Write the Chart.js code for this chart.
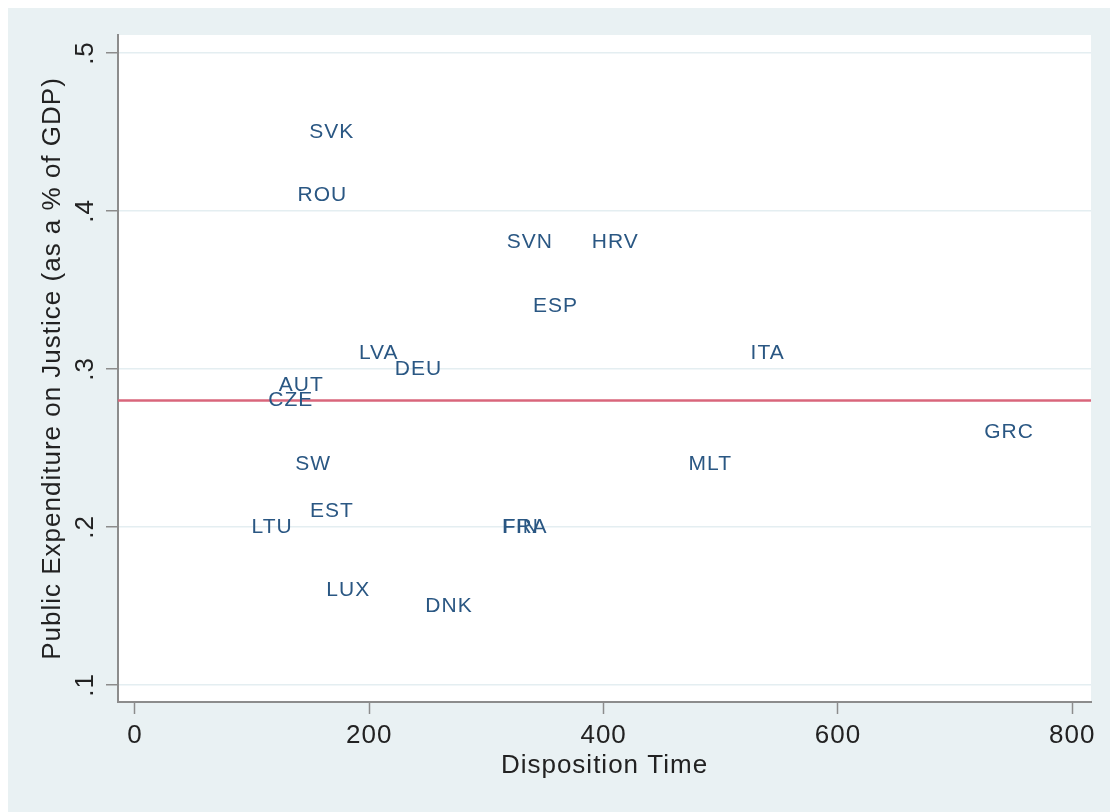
<!DOCTYPE html>
<html>
<head>
<meta charset="utf-8">
<title>Disposition Time vs Public Expenditure on Justice</title>
<script src="https://cdn.jsdelivr.net/npm/chart.js@4/dist/chart.umd.min.js"></script>
<style>
    html, body { margin: 0; padding: 0; background: #ffffff; }
    #scatter {
        position: absolute;
        left: 8px;
        top: 8px;
        background: #e9f1f3;
    }
</style>
</head>
<body>
<canvas id="scatter" width="1102" height="804"></canvas>
<script>
// Country data
const countries = ['SVK', 'ROU', 'SVN', 'HRV', 'ESP', 'LVA', 'DEU', 'ITA', 'AUT', 'CZE',
                   'GRC', 'SW', 'MLT', 'EST', 'LTU', 'FIN', 'FRA', 'LUX', 'DNK'];
const dispositionTime = [168, 160, 337, 410, 359, 208, 242, 540, 142, 133,
                         746, 152, 491, 168, 117, 329, 333, 182, 268];
const justiceSpending = [0.45, 0.41, 0.38, 0.38, 0.34, 0.31, 0.30, 0.31, 0.29, 0.28,
                         0.26, 0.24, 0.24, 0.21, 0.20, 0.20, 0.20, 0.16, 0.15];

// Reference line (average spending)
const justiceMean = 0.28;

// Axis ticks
const xTicks = [0, 200, 400, 600, 800];
const yTicks = [0.1, 0.2, 0.3, 0.4, 0.5];
const yTickLabels = ['.1', '.2', '.3', '.4', '.5'];
const xMin = -14.5, xMax = 816;
const yMin = 0.0892, yMax = 0.5114;

const FONT = '"Liberation Sans", Arial, Helvetica, sans-serif';
const AXIS_GRAY = '#8c8c8c';

const points = countries.map((c, i) => ({ x: dispositionTime[i], y: justiceSpending[i], label: c }));

// White plot region + wider letter spacing like the Stata output
const plotBackground = {
    id: 'plotBackground',
    beforeDraw(chart) {
        const { ctx, chartArea } = chart;
        ctx.letterSpacing = '1px';
        ctx.save();
        ctx.fillStyle = '#ffffff';
        ctx.fillRect(chartArea.left, chartArea.top,
                     chartArea.right - chartArea.left, chartArea.bottom - chartArea.top);
        ctx.restore();
    }
};

// Country codes used as markers
const markerLabels = {
    id: 'markerLabels',
    afterDatasetsDraw(chart) {
        const { ctx } = chart;
        const meta = chart.getDatasetMeta(0);
        ctx.save();
        ctx.font = '21px ' + FONT;
        ctx.fillStyle = '#2a5783';
        ctx.textAlign = 'center';
        ctx.textBaseline = 'middle';
        meta.data.forEach((el, i) => {
            ctx.fillText(points[i].label, el.x, el.y);
        });
        ctx.restore();
    }
};

// Rotated y tick labels (Chart.js does not rotate vertical tick labels)
const rotatedYTicks = {
    id: 'rotatedYTicks',
    afterDraw(chart) {
        const { ctx } = chart;
        const yScale = chart.scales.y;
        ctx.save();
        ctx.font = '26px ' + FONT;
        ctx.fillStyle = '#222222';
        ctx.textAlign = 'center';
        ctx.textBaseline = 'alphabetic';
        yScale.ticks.forEach((t, i) => {
            const y = yScale.getPixelForValue(t.value);
            ctx.save();
            ctx.translate(85, y);
            ctx.rotate(-Math.PI / 2);
            ctx.fillText(yTickLabels[i], 0, 0);
            ctx.restore();
        });
        ctx.restore();
    }
};

new Chart(document.getElementById('scatter'), {
    type: 'scatter',
    data: {
        datasets: [
            {
                label: 'Countries',
                data: points,
                pointRadius: 0,
                pointHoverRadius: 0
            },
            {
                type: 'line',
                label: 'Mean',
                data: [{ x: xMin, y: justiceMean }, { x: xMax, y: justiceMean }],
                borderColor: '#d9667b',
                borderWidth: 2.5,
                pointRadius: 0,
                fill: false
            }
        ]
    },
    options: {
        responsive: false,
        animation: false,
        layout: { padding: { top: 27, right: 19, bottom: 0, left: 0 } },
        plugins: {
            legend: { display: false },
            tooltip: { enabled: false }
        },
        scales: {
            x: {
                type: 'linear',
                min: xMin,
                max: xMax,
                afterBuildTicks: (scale) => { scale.ticks = xTicks.map(v => ({ value: v })); },
                afterFit: (scale) => { scale.height = 110; },
                border: { display: true, color: AXIS_GRAY, width: 2 },
                grid: {
                    drawOnChartArea: false,
                    drawTicks: true,
                    tickLength: 12,
                    tickColor: AXIS_GRAY,
                    tickWidth: 1.5
                },
                ticks: {
                    color: '#222222',
                    font: { family: FONT, size: 26 },
                    padding: 6,
                    maxRotation: 0
                },
                title: {
                    display: true,
                    text: 'Disposition Time',
                    color: '#222222',
                    font: { family: FONT, size: 26 },
                    padding: { top: 0, bottom: 31 }
                }
            },
            y: {
                type: 'linear',
                min: yMin,
                max: yMax,
                afterBuildTicks: (scale) => { scale.ticks = yTicks.map(v => ({ value: v })); },
                afterFit: (scale) => { scale.width = 110; },
                border: { display: true, color: AXIS_GRAY, width: 2 },
                grid: {
                    color: '#e4eef1',
                    lineWidth: 1.5,
                    drawTicks: true,
                    tickLength: 12,
                    tickColor: AXIS_GRAY,
                    tickWidth: 1.5
                },
                ticks: { display: false },
                title: {
                    display: true,
                    text: 'Public Expenditure on Justice (as a % of GDP)',
                    color: '#222222',
                    font: { family: FONT, size: 26 },
                    padding: { top: 29, bottom: 0 }
                }
            }
        }
    },
    plugins: [plotBackground, markerLabels, rotatedYTicks]
});
</script>
</body>
</html>
